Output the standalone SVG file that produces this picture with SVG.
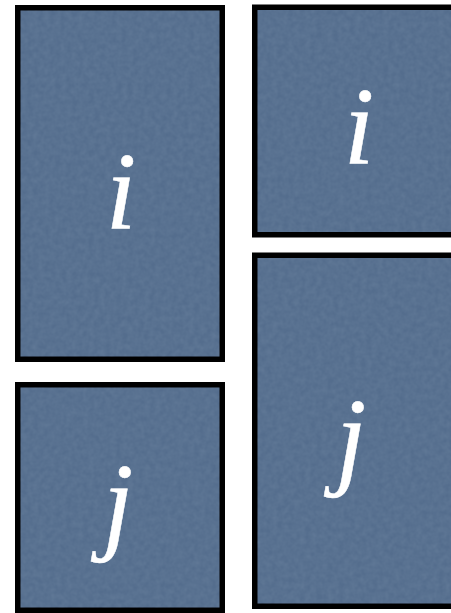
<svg xmlns="http://www.w3.org/2000/svg" width="451" height="613" viewBox="0 0 451 613">
  <defs>
    <filter id="tex" x="0" y="0" width="100%" height="100%">
      <feTurbulence type="fractalNoise" baseFrequency="0.18" numOctaves="2" seed="4" result="n"/>
      <feColorMatrix in="n" type="matrix" values="0 0 0 0 0.30  0 0 0 0 0.40  0 0 0 0 0.52  0 0 0 -1 0.8" result="c"/>
      <feComposite in="c" in2="SourceGraphic" operator="in"/>
    </filter>
  </defs>
  <style>
    .card { fill: #546d8d; stroke: #000; stroke-width: 5.5; }
    .tex { fill: #546d8d; filter: url(#tex); }
    .lbl { font-family: "Liberation Serif", "Times New Roman", serif; font-style: italic; font-size: 110px; fill: #fff; stroke: #fff; stroke-width: 0.5; text-anchor: middle; }
  </style>
  <g id="node-i-left">
    <rect class="card" x="17.75" y="7.75" width="204.5" height="351.5"/>
    <rect class="tex" x="20.5" y="10.5" width="199" height="346" opacity="0.25"/>
    <text class="lbl" x="121" y="228">i</text>
  </g>
  <g id="node-j-left">
    <rect class="card" x="17.75" y="384.75" width="204.5" height="225.5"/>
    <rect class="tex" x="20.5" y="387.5" width="199" height="220" opacity="0.25"/>
    <text class="lbl" x="118" y="540">j</text>
  </g>
  <g id="node-i-right">
    <rect class="card" x="254.75" y="7.25" width="210" height="227.5"/>
    <rect class="tex" x="257.5" y="10" width="200" height="222" opacity="0.25"/>
    <text class="lbl" x="359" y="163">i</text>
  </g>
  <g id="node-j-right">
    <rect class="card" x="254.75" y="255.25" width="210" height="351"/>
    <rect class="tex" x="257.5" y="258" width="200" height="345.5" opacity="0.25"/>
    <text class="lbl" x="351" y="475">j</text>
  </g>
  <g id="connectors"></g>
</svg>
